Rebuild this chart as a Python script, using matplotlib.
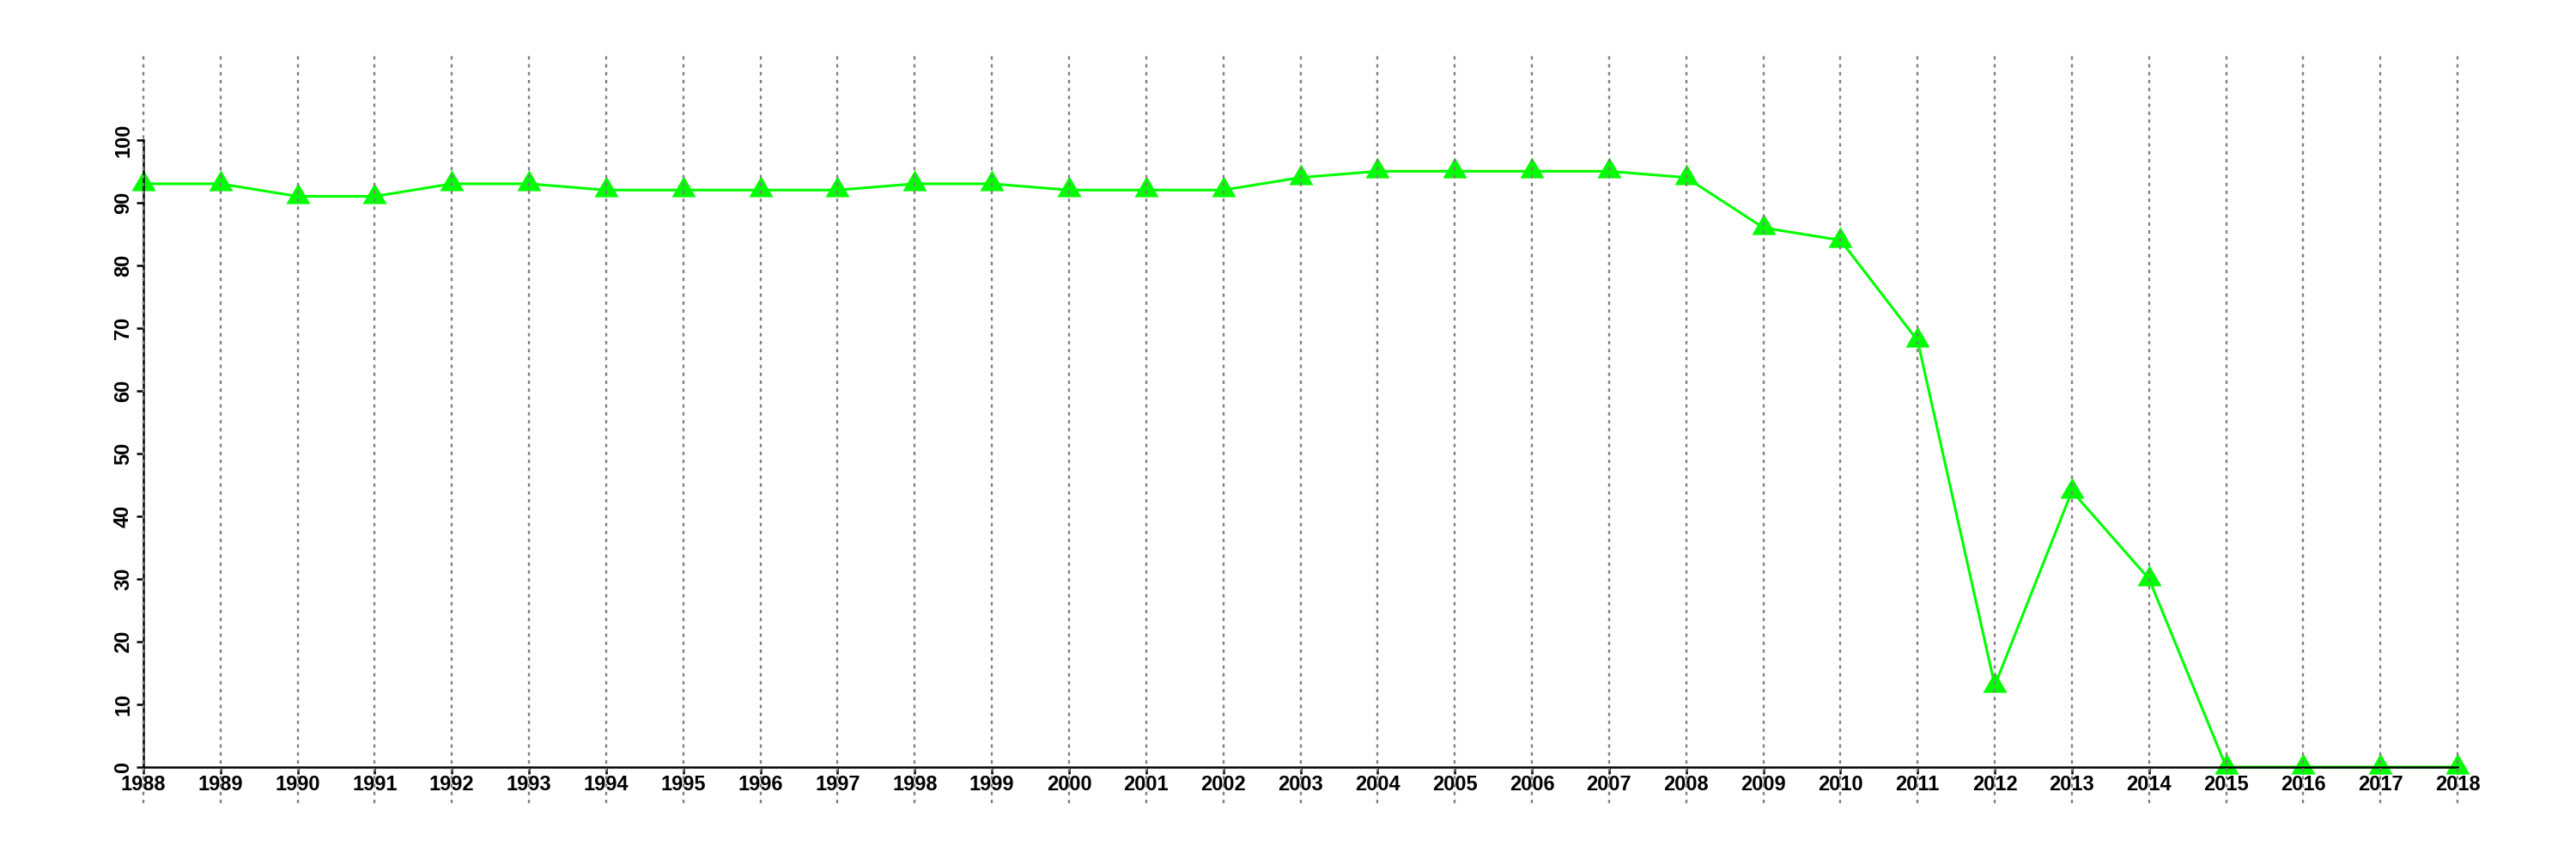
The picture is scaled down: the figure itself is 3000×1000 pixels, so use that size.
import matplotlib
matplotlib.use("Agg")
import matplotlib.pyplot as plt
from matplotlib.path import Path
import numpy as np

years = list(range(1988, 2019))
values = [93, 93, 91, 91, 93, 93, 92, 92, 92, 92, 93, 93, 92, 92, 92,
          94, 95, 95, 95, 95, 94, 86, 84, 68, 13, 44, 30, 0, 0, 0, 0]
yticks = list(range(0, 101, 10))

plt.rcParams['font.family'] = ['Liberation Sans', 'DejaVu Sans']

fig = plt.figure(figsize=(30, 10), dpi=100)
ax = fig.add_axes([59/3000, 0.065, (2970-59)/3000, 0.87])
ax.set_xlim(1986.8, 2019.2)
ax.set_ylim(-5.75, 113.4)

tri = Path([(-1, -0.577), (1, -0.577), (0, 1.155), (-1, -0.577)],
           [Path.MOVETO, Path.LINETO, Path.LINETO, Path.CLOSEPOLY])

ax.plot(years, values, color='#00FF00', linewidth=2.2, marker=tri,
        markersize=23.3, markerfacecolor='#00FF00', markeredgewidth=0,
        zorder=2, clip_on=False)

for y in years:
    ax.axvline(y, color='#808080', linewidth=1.7,
               linestyle=(0, (1.7, 2.2)), zorder=3)

for s in ['top', 'right']:
    ax.spines[s].set_visible(False)
ax.spines['left'].set_position(('data', 1988))
ax.spines['left'].set_bounds(0, 100)
ax.spines['bottom'].set_position(('data', 0))
ax.spines['bottom'].set_bounds(1988, 2018)
for s in ['left', 'bottom']:
    ax.spines[s].set_linewidth(1.8)
    ax.spines[s].set_zorder(2.5)

ax.set_xticks(years)
ax.set_xticklabels([str(y) for y in years])
ax.set_yticks(yticks)
ax.set_yticklabels([str(v) for v in yticks])
ax.tick_params(axis='both', direction='out', length=5.5, width=1.8,
               labelsize=17)
ax.tick_params(axis='x', pad=1)
ax.tick_params(axis='y', pad=3)
for lab in ax.get_xticklabels() + ax.get_yticklabels():
    lab.set_fontweight('bold')
for lab in ax.get_yticklabels():
    lab.set_rotation(90)
    lab.set_va('center')
    lab.set_ha('right')

fig.savefig('out.png', dpi=100)
